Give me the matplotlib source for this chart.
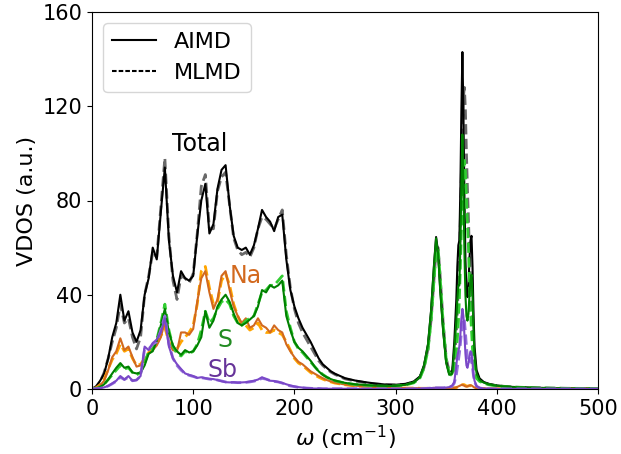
import matplotlib
matplotlib.use("Agg")
import matplotlib.pyplot as plt
from matplotlib.lines import Line2D

# Frequency grid (cm^-1): coarse over the acoustic/low-optic band, fine around the S-Sb stretch peaks
freq = [0, 4, 8, 12, 16, 20, 24, 28, 32, 36,
        40, 44, 48, 52, 56, 60, 64, 68, 72, 76,
        80, 84, 88, 92, 96, 100, 104, 108, 112, 116,
        120, 124, 128, 132, 136, 140, 144, 148, 152, 156,
        160, 164, 168, 172, 176, 180, 184, 188, 192, 196,
        200, 204, 208, 212, 216, 220, 224, 228, 232, 236,
        240, 250, 260, 270, 280, 290, 300, 310, 318, 324,
        328, 332, 335, 338, 340, 342, 344, 347, 350, 353,
        356, 358, 360, 361, 362, 363, 364, 365, 366, 367,
        368, 369, 370, 371, 372, 373, 374, 375, 376, 377,
        378, 380, 383, 387, 392, 400, 415, 440, 470, 500]

total_aimd = [0, 1, 3.5, 6.5, 13, 22, 28, 40, 29, 33,
              24, 20, 25, 40, 47, 60, 55, 75, 94, 63,
              48, 41, 50, 47, 46, 48, 65, 80, 87, 66,
              70, 85, 93, 95, 78, 65, 60, 59, 60, 57,
              61, 68, 76, 73, 71, 67, 73, 74, 55, 42,
              35, 30, 26, 23, 20, 16.5, 13, 10.5, 9, 7.5,
              6.5, 4.6, 3.6, 2.9, 2.3, 1.9, 1.8, 2.2, 3.2, 5.3,
              10, 19, 33, 53, 64.5, 58, 43, 25, 11.5, 6.5,
              8, 20, 38, 52, 61, 63, 85, 118, 143, 118,
              82, 55, 42, 39, 44, 55, 63, 65, 52, 32,
              18, 8, 4.5, 3, 2.2, 1.5, 0.9, 0.5, 0.3, 0.2]

total_mlmd = [0, 1, 3, 7, 13, 20, 26, 36, 28, 30,
              22, 17, 22, 40, 48, 58, 56, 77, 98, 65,
              46, 38, 48, 47, 45, 49, 66, 86, 91, 68,
              68, 84, 90, 92, 78, 64, 59, 57, 58, 56,
              60, 68, 73, 72, 70, 68, 72, 76, 57, 43,
              34, 28, 24, 21, 18, 15, 12, 10, 8.5, 7.2,
              6.2, 4.3, 3.4, 2.7, 2.2, 1.8, 1.7, 2, 3, 5,
              9, 17, 29, 47, 59, 60, 48, 28, 13, 7.5,
              7, 12, 24, 33, 43, 55, 72, 92, 112, 124,
              128, 118, 100, 85, 72, 58, 47, 38, 27, 18,
              11.5, 6, 3.8, 2.8, 2, 1.4, 0.85, 0.5, 0.3, 0.2]

na_aimd = [0, 0.4, 1.5, 3.5, 8, 13.5, 16, 21.5, 16.5, 18,
           13.5, 9.5, 10, 12.5, 15, 16.5, 18.5, 22, 28.5, 19.5,
           16.5, 16, 24, 24, 23, 25.5, 37, 47, 50, 41,
           34, 38, 48, 50, 42, 35, 31, 28, 30, 26,
           27, 30, 27, 26, 24, 27, 25, 24, 19, 16,
           13.5, 11.5, 10.5, 9, 7.5, 6.5, 5.5, 4.6, 3.8, 3.2,
           2.7, 1.9, 1.4, 1.1, 0.8, 0.6, 0.5, 0.4, 0.4, 0.3,
           0.3, 0.3, 0.3, 0.3, 0.3, 0.3, 0.3, 0.3, 0.3, 0.3,
           0.4, 0.5, 0.7, 0.9, 1.1, 1.3, 1.5, 1.7, 1.8, 1.6,
           1.3, 1.1, 1.0, 1.1, 1.3, 1.5, 1.6, 1.5, 1.2, 0.9,
           0.6, 0.4, 0.3, 0.2, 0.2, 0.1, 0.1, 0.05, 0.03, 0.02]

na_mlmd = [0, 0.5, 1.8, 4, 8.5, 12.5, 15, 19, 16, 17,
           13, 10, 10.5, 13, 15.5, 17, 19, 22.5, 26, 20,
           17, 17, 20, 22, 24, 27, 36, 50, 52, 43,
           36, 37, 46, 49, 44, 36, 31, 27, 27, 25,
           26, 28, 25, 24, 24, 25, 24, 23, 20, 16.5,
           13, 11, 10, 8.5, 7, 6, 5, 4.2, 3.5, 3,
           2.5, 1.8, 1.3, 1, 0.8, 0.6, 0.5, 0.4, 0.4, 0.3,
           0.3, 0.3, 0.3, 0.3, 0.3, 0.3, 0.3, 0.3, 0.3, 0.3,
           0.4, 0.5, 0.6, 0.8, 1.0, 1.2, 1.4, 1.6, 1.8, 1.9,
           1.8, 1.5, 1.3, 1.2, 1.3, 1.4, 1.4, 1.3, 1.1, 0.8,
           0.6, 0.4, 0.3, 0.2, 0.2, 0.1, 0.1, 0.05, 0.03, 0.02]

s_aimd = [0, 0.2, 0.8, 2, 4, 6.6, 9, 11, 9, 9.5,
          7, 6.6, 7, 10, 15, 16, 20.5, 27, 34, 24,
          18.5, 16, 14.5, 16.5, 15.5, 16, 18.5, 22, 33, 26,
          29, 35, 38, 40, 37, 32, 28, 27, 28, 29.5,
          31, 35, 42, 41, 44, 43, 44, 46, 31, 25,
          20, 17.5, 16, 14, 12, 9.5, 7.5, 6, 5, 4.2,
          3.6, 2.6, 2.0, 1.7, 1.4, 1.3, 1.3, 1.8, 2.8, 5,
          9.7, 18.7, 32.7, 52.5, 64, 57.5, 42.5, 24.5, 11, 6,
          6.5, 16.5, 29, 38, 44, 44, 61, 87, 108, 86,
          58, 40, 31, 29, 32, 40, 46, 48.5, 40, 25,
          14, 6.5, 3.8, 2.7, 2, 1.4, 0.8, 0.45, 0.25, 0.15]

s_mlmd = [0, 0.2, 0.8, 2, 4, 6, 8, 10, 8.5, 9,
          7, 6, 7, 11, 16, 17, 21, 28, 36, 25,
          18, 15, 14, 16, 15, 16, 19, 25, 33, 28,
          30, 34, 37, 38, 36, 31, 28, 27, 29, 30,
          31, 36, 41, 42, 44, 44, 46, 48, 33, 26,
          20, 17, 15.5, 13.5, 11.5, 9.5, 7.6, 6.2, 5, 4.2,
          3.5, 2.5, 1.9, 1.6, 1.3, 1.2, 1.3, 1.7, 2.6, 4.6,
          8.7, 16.5, 28.5, 46.5, 58.5, 59.5, 47.5, 27.5, 12.5, 7,
          5.5, 9, 16, 21, 28, 38, 52, 67, 82, 92,
          97, 92, 80, 70, 60, 45, 33, 25, 17, 11,
          8, 4.5, 3.2, 2.5, 1.8, 1.3, 0.8, 0.45, 0.25, 0.15]

sb_aimd = [0, 0.1, 0.3, 0.7, 1.3, 2.4, 3.5, 5.5, 4, 5.5,
           3.5, 3.8, 5.5, 18, 16.5, 19.5, 21, 24, 30, 18,
           13, 10.5, 8.5, 6.6, 6, 5.5, 4.7, 5, 4.6, 4.3,
           4.2, 3.8, 3.3, 2.9, 2.8, 2.9, 2.7, 2.8, 2.9, 3.2,
           3.5, 4, 5, 4.2, 3.5, 3.4, 3, 2.6, 2, 1.5,
           1.1, 0.8, 0.6, 0.4, 0.3, 0.2, 0.2, 0.1, 0.1, 0.1,
           0.1, 0.1, 0.1, 0.05, 0.05, 0.05, 0.05, 0.05, 0.1, 0.1,
           0.2, 0.3, 0.4, 0.5, 0.5, 0.5, 0.5, 0.5, 0.6, 0.8,
           1.5, 3, 10, 14, 16, 18, 23, 30, 34, 31,
           23, 15, 10, 9, 11, 14, 16, 15.5, 11, 6,
           3.5, 1.2, 0.5, 0.2, 0.1, 0.05, 0.03, 0.02, 0.01, 0]

sb_mlmd = [0, 0.1, 0.3, 0.7, 1.3, 2.2, 3.3, 5, 4, 5,
           3.5, 3.8, 5.5, 17, 17, 19, 20, 25, 31, 19,
           13, 10, 8, 6.5, 5.8, 5.3, 4.8, 4.8, 4.5, 4.2,
           4, 3.8, 3.4, 3, 2.8, 2.8, 2.7, 2.7, 2.8, 3,
           3.3, 3.8, 4.5, 4.2, 3.6, 3.2, 3, 2.5, 1.8, 1.3,
           1, 0.7, 0.5, 0.4, 0.3, 0.2, 0.2, 0.1, 0.1, 0.1,
           0.1, 0.1, 0.1, 0.05, 0.05, 0.05, 0.05, 0.05, 0.1, 0.1,
           0.2, 0.3, 0.4, 0.5, 0.5, 0.5, 0.5, 0.5, 0.6, 0.7,
           1.2, 2.5, 6, 9, 12, 15, 19, 24, 28, 30,
           29, 24, 18, 13, 11, 12, 13, 12, 9, 5.5,
           3, 1.2, 0.4, 0.2, 0.1, 0.05, 0.03, 0.02, 0.01, 0]

species = ["Total", "Na", "S", "Sb"]
aimd_data = [total_aimd, na_aimd, s_aimd, sb_aimd]
mlmd_data = [total_mlmd, na_mlmd, s_mlmd, sb_mlmd]
aimd_colors = ["black", "chocolate", "green", "#7a48c8"]
mlmd_colors = ["dimgray", "orange", "limegreen", "mediumpurple"]
label_colors = ["black", "chocolate", "forestgreen", "rebeccapurple"]
label_pos = [(79, 104), (136, 48), (124, 21), (114, 8)]

fig = plt.figure(figsize=(6.21, 4.54), dpi=100)
ax = fig.add_axes([92 / 621, 65 / 454, 506 / 621, 377 / 454])

for name, ya, ym, ca, cm in zip(species, aimd_data, mlmd_data, aimd_colors, mlmd_colors):
    ax.plot(freq, ym, color=cm, ls="--", lw=2.0)
    ax.plot(freq, ya, color=ca, ls="-", lw=1.5)

for name, (lx, ly), lc in zip(species, label_pos, label_colors):
    ax.text(lx, ly, name, color=lc, fontsize=17, ha="left", va="center")

ax.set_xlim(0, 500)
ax.set_ylim(0, 160)
ax.set_xticks([0, 100, 200, 300, 400, 500])
ax.set_yticks([0, 40, 80, 120, 160])
ax.tick_params(labelsize=15)
ax.set_xlabel(r"$\omega$ (cm$^{-1}$)", fontsize=16)
ax.set_ylabel("VDOS (a.u.)", fontsize=16)

handles = [Line2D([0], [0], color="black", ls="-", lw=1.5),
           Line2D([0], [0], color="black", ls=(0, (2.2, 1.0)), lw=1.5)]
ax.legend(handles, ["AIMD", "MLMD"], loc="upper left", fontsize=16)

fig.savefig("out.png", dpi=100)
